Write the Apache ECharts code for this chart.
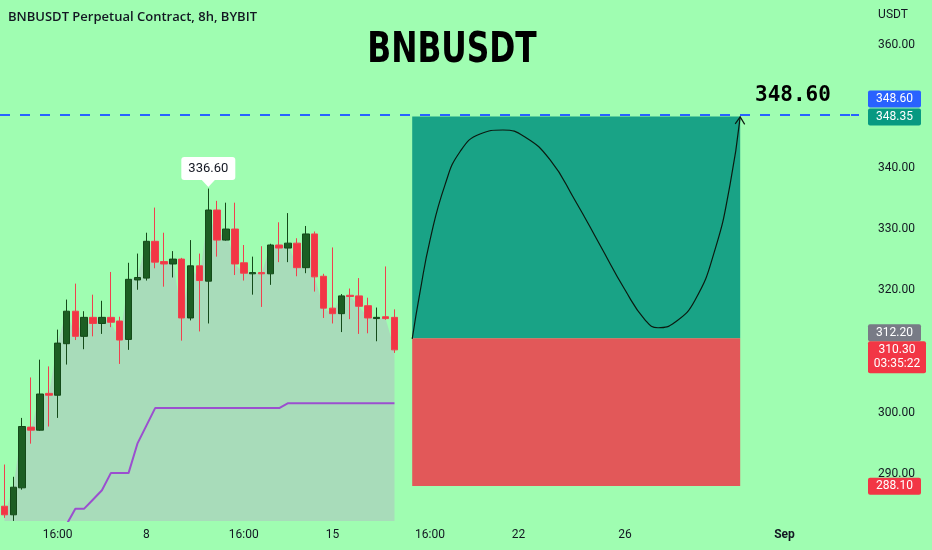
<!DOCTYPE html>
<html><head><meta charset="utf-8">
<script src="https://cdn.jsdelivr.net/npm/echarts@6/dist/echarts.min.js"></script>
<style>html,body{margin:0;padding:0;background:#9ffdb1;} #c{width:932px;height:550px;}</style>
</head><body><div id="c"></div>
<script>
// ---- data ----
const categories = [
"08-02 16:00",
"08-03 00:00","08-03 08:00","08-03 16:00","08-04 00:00","08-04 08:00","08-04 16:00",
"08-05 00:00","08-05 08:00","08-05 16:00","08-06 00:00","08-06 08:00","08-06 16:00",
"08-07 00:00","08-07 08:00","08-07 16:00","08-08 00:00","08-08 08:00","08-08 16:00",
"08-09 00:00","08-09 08:00","08-09 16:00","08-10 00:00","08-10 08:00","08-10 16:00",
"08-11 00:00","08-11 08:00","08-11 16:00","08-12 00:00","08-12 08:00","08-12 16:00",
"08-13 00:00","08-13 08:00","08-13 16:00","08-14 00:00","08-14 08:00","08-14 16:00",
"08-15 00:00","08-15 08:00","08-15 16:00","08-16 00:00","08-16 08:00","08-16 16:00",
"08-17 00:00","08-17 08:00","08-17 16:00","08-18 00:00","08-18 08:00","08-18 16:00",
"08-19 00:00","08-19 08:00","08-19 16:00","08-20 00:00","08-20 08:00","08-20 16:00",
"08-21 00:00","08-21 08:00","08-21 16:00","08-22 00:00","08-22 08:00","08-22 16:00",
"08-23 00:00","08-23 08:00","08-23 16:00","08-24 00:00","08-24 08:00","08-24 16:00",
"08-25 00:00","08-25 08:00","08-25 16:00","08-26 00:00","08-26 08:00","08-26 16:00",
"08-27 00:00","08-27 08:00","08-27 16:00","08-28 00:00","08-28 08:00","08-28 16:00",
"08-29 00:00","08-29 08:00","08-29 16:00","08-30 00:00","08-30 08:00","08-30 16:00",
"08-31 00:00","08-31 08:00","08-31 16:00","09-01 00:00","09-01 08:00","09-01 16:00",
"09-02 00:00","09-02 08:00","09-02 16:00","09-03 00:00","09-03 08:00"
];
const opens  = [284.8,283.4,287.8,297.7,297.2,303.2,302.9,311.3,316.6,312.5,315.6,314.6,315.6,315.0,312.0,321.7,322.0,328.0,324.7,324.3,325.1,315.5,324.0,321.5,333.1,328.2,330.0,324.5,322.7,322.9,322.7,327.4,326.9,327.7,323.7,329.2,322.3,317.1,316.2,319.2,319.1,317.5,315.4,315.7,315.6];
const closes = [283.4,287.9,297.8,297.2,303.1,302.9,311.4,316.6,312.5,315.6,314.6,315.6,314.8,311.9,321.8,322.1,328.0,324.6,324.3,325.1,315.5,324.0,321.6,333.1,328.2,330.0,324.3,322.8,322.9,322.7,327.4,326.9,327.7,323.7,329.2,322.2,317.1,316.2,319.1,319.0,317.4,315.5,315.6,315.4,310.3];
const lows   = [282.9,282.4,287.5,295.0,297.1,297.8,299.2,307.9,311.9,310.4,312.5,312.9,314.0,308.0,310.3,320.1,321.6,323.6,320.6,322.1,311.8,315.1,313.3,314.6,325.5,328.1,322.5,321.6,319.3,317.3,320.9,324.6,324.6,322.3,322.8,319.8,315.5,314.6,313.2,315.3,312.9,313.0,311.7,315.2,309.8];
const highs  = [291.6,289.6,299.2,305.8,308.7,307.6,313.6,318.5,321.1,316.6,319.3,318.3,323.0,315.7,324.5,326.0,329.4,333.5,329.4,326.4,325.3,328.2,326.0,336.6,334.6,334.3,334.3,327.4,325.5,327.2,327.6,331.1,332.6,328.5,330.5,329.6,322.7,327.0,319.4,320.3,322.0,318.8,317.2,323.9,316.9];
const support = [null,null,null,null,null,null,null,281.8,284.4,284.4,285.9,287.4,290.2,290.2,290.2,295.0,297.9,
  300.8,300.8,300.8,300.8,300.8,300.8,300.8,300.8,300.8,300.8,300.8,300.8,300.8,300.8,300.8,
  301.6,301.6,301.6,301.6,301.6,301.6,301.6,301.6,301.6,301.6,301.6,301.6,301.6];
const tickCats  = ["08-04 16:00","08-08 00:00","08-11 16:00","08-15 00:00","08-18 16:00","08-22 00:00","08-26 00:00","09-01 00:00"];
const tickTexts = ["16:00","8","16:00","15","16:00","22","26","Sep"];
const yTicks = [290,300,320,330,340,360];
const targetPrice = 348.60, takeProfit = 348.35, entryPrice = 312.20, lastPrice = 310.30, stopPrice = 288.10;
const countdown = "03:35:22";
const boxStart = 46, boxEnd = 83;
const curveX = [46.0,46.88,48.01,49.70,51.39,53.65,56.24,58.72,61.54,64.36,67.18,70.00,72.26,73.73,75.64,77.90,80.15,81.85,83.0];
const curveY = [312.1,319.7,328.2,337.2,342.6,345.5,346.15,345.0,341.3,334.7,327.4,320.1,315.2,313.9,314.8,318.4,326.6,337.2,348.3];
const highMark = {index: 23, value: 336.60};

// ---- chart ----
const BG = '#9ffdb1';
const TXT = '#131722';
const chart = echarts.init(document.getElementById('c'), null, {renderer: 'canvas'});
const candles = opens.map((o, i) => [o, closes[i], lows[i], highs[i]]);
const curve = curveX.map((x, i) => [x, curveY[i]]);

chart.setOption({
  backgroundColor: BG,
  animation: false,
  grid: {left: 0, right: 81, top: 0, bottom: 29, containLabel: false},
  xAxis: [{
    type: 'category', data: categories, boundaryGap: true,
    axisLine: {show: false}, axisTick: {show: false}, splitLine: {show: false},
    axisLabel: {
      interval: (i, v) => tickCats.indexOf(v) >= 0,
      formatter: v => { const t = tickTexts[tickCats.indexOf(v)]; return t === 'Sep' ? '{b|Sep}' : t; },
      color: TXT, fontSize: 12, fontFamily: 'Roboto', margin: 8,
      rich: {b: {fontWeight: 'bold', color: TXT, fontSize: 12, fontFamily: 'Roboto'}}
    }
  }, {
    type: 'value', min: -0.5, max: categories.length - 0.5, show: false
  }],
  yAxis: [{
    type: 'value', position: 'right', min: 282.39, max: 367.35, scale: true,
    axisLine: {show: false}, axisTick: {show: false}, splitLine: {show: false},
    axisLabel: {customValues: yTicks, formatter: v => v.toFixed(2), color: TXT, fontSize: 12, fontFamily: 'Roboto', margin: 27}
  }],
  series: [
    {
      type: 'line', data: closes, symbol: 'none', z: 1,
      lineStyle: {width: 0, opacity: 0},
      areaStyle: {color: '#a8dcba', opacity: 1, origin: 'start'}
    },
    {
      type: 'line', data: support, symbol: 'none', z: 2, connectNulls: false,
      lineStyle: {color: '#9b4fcf', width: 2}
    },
    {
      type: 'candlestick', data: candles, barWidth: 7, z: 3,
      itemStyle: {color: '#1c5e23', color0: '#f23645', borderColor: '#144a19', borderColor0: '#f0404e', borderWidth: 1},
      markLine: {
        silent: true, symbol: 'none', z: 6,
        lineStyle: {color: '#2962ff', type: [10, 10], width: 2},
        label: {show: false},
        data: [{yAxis: targetPrice}]
      }
    },
    {
      type: 'scatter', xAxisIndex: 1, data: [],
      markArea: {
        silent: true,
        data: [
          [{xAxis: boxStart, yAxis: takeProfit, itemStyle: {color: '#19a386'}}, {xAxis: boxEnd, yAxis: entryPrice}],
          [{xAxis: boxStart, yAxis: entryPrice, itemStyle: {color: '#e25859'}}, {xAxis: boxEnd, yAxis: stopPrice}]
        ]
      }
    },
    {
      type: 'line', xAxisIndex: 1, data: curve, symbol: 'none', smooth: 0.5, z: 4,
      lineStyle: {color: '#0b1a10', width: 1.2}
    }
  ]
});

// overlays positioned through the chart's own scales
const yPx = v => chart.convertToPixel({yAxisIndex: 0}, v);
const gridRight = chart.convertToPixel({xAxisIndex: 1}, categories.length - 0.5);
const hp = chart.convertToPixel({xAxisIndex: 0, yAxisIndex: 0}, [categories[highMark.index], highMark.value]);
const tip = chart.convertToPixel({xAxisIndex: 1, yAxisIndex: 0}, [curveX[curveX.length - 1], curveY[curveY.length - 1]]);

const priceTags = [
  {v: targetPrice, text: targetPrice.toFixed(2), color: '#2962ff', dy: -16, w: 53, h: 17},
  {v: takeProfit, text: takeProfit.toFixed(2), color: '#089981', dy: 0.5, w: 53, h: 17},
  {v: entryPrice, text: entryPrice.toFixed(2), color: '#787b86', dy: -5.5, w: 53, h: 17},
  {v: lastPrice, text: lastPrice.toFixed(2) + '\n' + countdown, color: '#f23645', dy: -8.5, w: 58, h: 32, two: true},
  {v: stopPrice, text: stopPrice.toFixed(2), color: '#f23645', dy: 0.3, w: 53, h: 17}
];
const tagX = gridRight + 17;
const graphics = [];
priceTags.forEach(t => {
  const y = yPx(t.v) + t.dy;
  const top = t.two ? y : y - t.h / 2;
  graphics.push({type: 'rect', shape: {x: tagX, y: top, width: t.w, height: t.h, r: 2}, style: {fill: t.color}, z: 20});
  graphics.push({type: 'text', x: tagX + t.w / 2, y: top + t.h / 2, z: 21,
    style: {text: t.text, fill: '#ffffff', font: '12px Roboto', align: 'center', verticalAlign: 'middle', lineHeight: 14}});
});
// dash tick extending into the price scale
graphics.push({type: 'line', shape: {x1: gridRight, y1: yPx(targetPrice), x2: gridRight + 8, y2: yPx(targetPrice)}, style: {stroke: '#2962ff', lineWidth: 2}, z: 20});
// high callout
graphics.push({type: 'rect', shape: {x: hp[0] - 27, y: hp[1] - 31.5, width: 54, height: 23, r: 3}, style: {fill: '#ffffff'}, z: 20});
graphics.push({type: 'polygon', shape: {points: [[hp[0] - 7, hp[1] - 9], [hp[0] + 7, hp[1] - 9], [hp[0], hp[1] - 1.5]]}, style: {fill: '#ffffff'}, z: 20});
graphics.push({type: 'text', x: hp[0], y: hp[1] - 20, z: 21,
  style: {text: highMark.value.toFixed(2), fill: TXT, font: '13px Roboto', align: 'center', verticalAlign: 'middle'}});
// arrow head at the end of the drawn path
graphics.push({type: 'polyline', shape: {points: [[tip[0] - 5, tip[1] + 7], [tip[0], tip[1]], [tip[0] + 4.5, tip[1] + 7.5]]}, style: {stroke: '#0b1a10', lineWidth: 1.2, fill: null}, z: 20});
// target text
graphics.push({type: 'text', x: 755, y: yPx(targetPrice) - 19, z: 21,
  style: {text: targetPrice.toFixed(2), fill: '#000000', font: 'bold 21px "DejaVu Sans Mono"', align: 'left', verticalAlign: 'middle'}});
// titles
graphics.push({type: 'text', x: 452, y: 51, scaleX: 0.83, z: 21,
  style: {text: 'BNBUSDT', fill: '#000000', font: 'bold 42px "Liberation Sans Narrow", "DejaVu Sans Condensed", sans-serif', align: 'center', verticalAlign: 'middle'}});
graphics.push({type: 'text', x: 8, y: 17, z: 21,
  style: {text: 'BNBUSDT Perpetual Contract, 8h, BYBIT', fill: TXT, font: '600 13px "Open Sans"', align: 'left', verticalAlign: 'middle'}});
graphics.push({type: 'text', x: 893, y: 15, z: 21,
  style: {text: 'USDT', fill: TXT, font: '12px Roboto', align: 'center', verticalAlign: 'middle'}});

chart.setOption({graphic: graphics});
</script>
</body></html>
